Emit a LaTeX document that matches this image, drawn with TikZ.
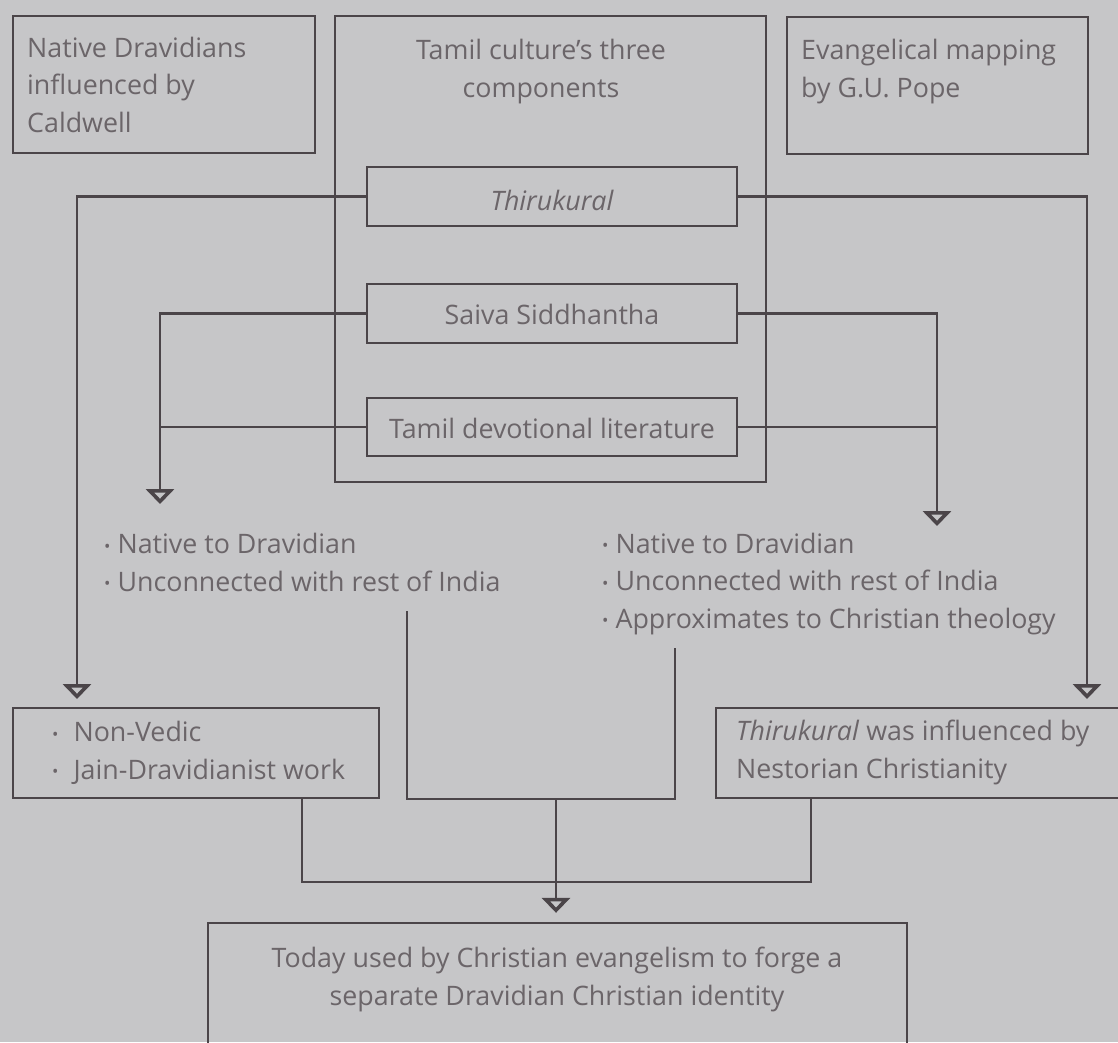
\documentclass[tikz,border=0pt]{standalone}
\usepackage{fontspec}
\usepackage{graphicx}
\setmainfont{Open Sans}
\usetikzlibrary{arrows.meta}
\definecolor{bg}{HTML}{C6C6C8}
\definecolor{linec}{HTML}{4B4549}
\definecolor{txtc}{HTML}{6B6569}
\newcommand\bul{\raisebox{1.5pt}{\fontsize{17}{17}\selectfont •}}

\begin{document}
\begin{tikzpicture}[x=1pt,y=-1pt,
  box/.style={draw=linec, line width=2.4pt, inner sep=0pt, rectangle},
  txt/.style={text=txtc, font=\fontsize{26.8}{37.5}\selectfont, inner sep=0pt},
  conn/.style={draw=linec, line width=2.4pt},
  tip/.style={-{Triangle[open, length=15pt, width=28pt, line width=3.6pt, sep=9pt]}}]

\fill[bg] (0,0) rectangle (1118,1042);
\useasboundingbox (0,0) rectangle (1118,1042);

\begin{scope}
\clip (0,0) rectangle (1118,1042);

% boxes
\node[box, minimum width=302pt, minimum height=137pt] (cald) at (164,84.5) {};
\node[box, line width=2.8pt, minimum width=431pt, minimum height=466pt] (tamil) at (550.5,249) {};
\node[box, minimum width=301pt, minimum height=137pt] (pope) at (937.5,85.5) {};
\node[box, minimum width=370pt, minimum height=59pt] (thk) at (552,196.5) {};
\node[box, minimum width=370pt, minimum height=59pt] (sai) at (552,313.5) {};
\node[box, minimum width=370pt, minimum height=58pt] (dev) at (552,427) {};
\node[box, minimum width=366pt, minimum height=90pt] (nv) at (196,753) {};
\node[box, minimum width=414pt, minimum height=90pt] (tk) at (923,753) {};
\node[box, minimum width=699pt, minimum height=137pt] (bot) at (557.5,991.5) {};

% texts (multi-line nodes are anchored at the baseline of their last line)
\node[txt, anchor=base west, align=left] (caldT) at (27,132) {Native Dravidians\\influenced by\\Caldwell};
\node[txt, anchor=base, align=center] (tamilT) at (541,97) {Tamil culture’s three\\components};
\node[txt, anchor=base west, align=left] (popeT) at (801,97) {Evangelical mapping\\by G.U. Pope};
\node[txt, anchor=base] (thkT) at (552,210) {\itshape Thirukural};
\node[txt, anchor=base] (saiT) at (552,324) {Saiva Siddhantha};
\node[txt, anchor=base] (devT) at (552,438) {Tamil devotional literature};
\node[txt, anchor=base west, align=left] (la) at (104,591)
  {\bul\hspace{7pt}Native to Dravidian\\\bul\hspace{7pt}Unconnected with rest of India};
\node[txt, anchor=base west, align=left] (lb) at (602,628)
  {\bul\hspace{7pt}Native to Dravidian\\\bul\hspace{7pt}Unconnected with rest of India\\\bul\hspace{7pt}Approximates to Christian theology};
\node[txt, anchor=base west, align=left] (nvT) at (52,779)
  {\bul\hspace{15pt}Non-Vedic\\\bul\hspace{15pt}Jain-Dravidianist work};
\node[txt, anchor=base west, align=left] (tkT) at (736,778)
  {\textit{Thirukural} was influenced by\\Nestorian Christianity};
\node[txt, anchor=base, align=center] (botT) at (557,1005)
  {Today used by Christian evangelism to forge a\\separate Dravidian Christian identity};

% connector ends
\coordinate (nvin) at (77,708);
\coordinate (tkin) at (1087,708);
\coordinate (lain) at (160,513);
\coordinate (lbin) at (937,535);
\coordinate (brL) at (407,611);
\coordinate (brR) at (675,648);
\coordinate (brM) at (556,799);
\coordinate (nvout) at (302,798);
\coordinate (tkout) at (811,798);
\coordinate (join) at (556,882);

% connectors
\draw[conn, tip] (thk.west) -| (nvin);
\draw[conn, tip] (thk.east) -| (tkin);
\draw[conn, tip] (sai.west) -| (lain);
\draw[conn] (dev.west) -- (dev.west -| lain);
\draw[conn, tip] (sai.east) -| (lbin);
\draw[conn] (dev.east) -- (dev.east -| lbin);
\draw[conn] (brL) |- (brM) -| (brR);
\draw[conn] (nvout) |- (join) -| (tkout);
\draw[conn, tip] (brM) -- (brM |- bot.north);
\end{scope}
\end{tikzpicture}
\end{document}
